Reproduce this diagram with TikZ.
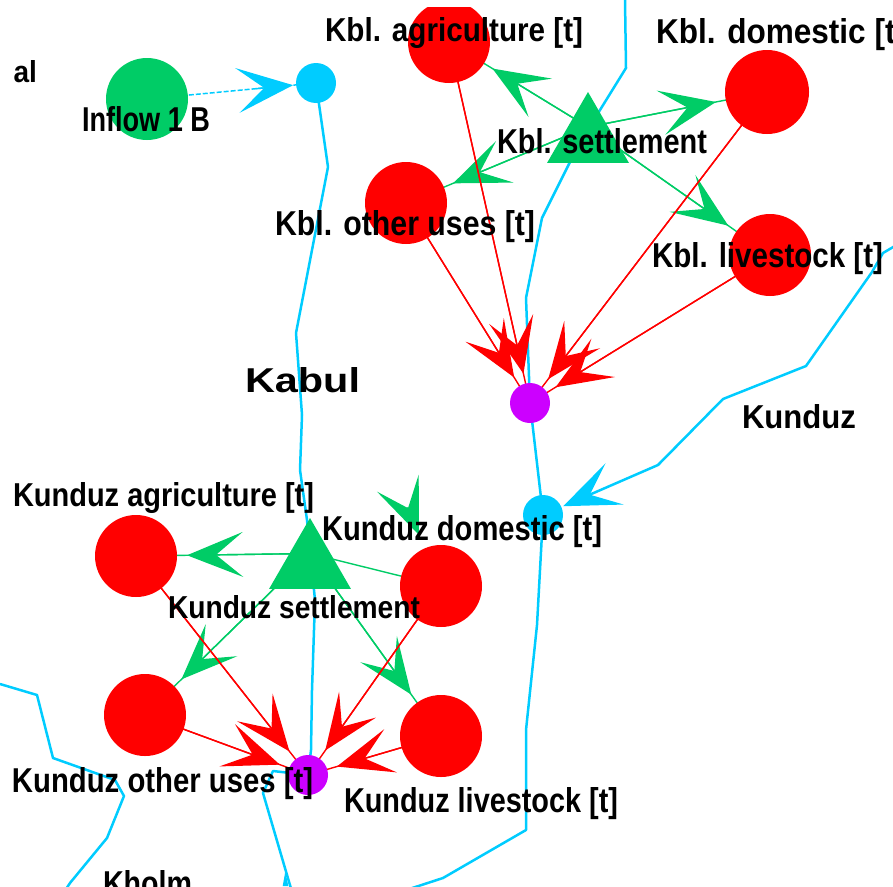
\documentclass[tikz,border=0pt]{standalone}
\usepackage{fontspec}
\setmainfont{Liberation Sans}
\usetikzlibrary{arrows.meta,shapes.geometric}
\pgfdeclarelayer{bg}
\pgfsetlayers{bg,main}
\definecolor{cRed}{RGB}{255,0,0}
\definecolor{cGreen}{RGB}{0,204,102}
\definecolor{cCyan}{RGB}{0,204,255}
\definecolor{cPurple}{RGB}{204,0,255}
\newcommand{\fitlbl}[3]{\resizebox{#1pt}{#2pt}{\bfseries #3}}
\begin{document}
\begin{tikzpicture}[x=1pt,y=-1pt,
  redc/.style={circle,fill=cRed,draw=none,minimum size=82pt,inner sep=0pt},
  greenc/.style={circle,fill=cGreen,draw=none,minimum size=82pt,inner sep=0pt},
  purc/.style={circle,fill=cPurple,draw=none,minimum size=40pt,inner sep=0pt},
  cyanc/.style={circle,fill=cCyan,draw=none,minimum size=40pt,inner sep=0pt},
  tri/.style={regular polygon,regular polygon sides=3,fill=cGreen,draw=none,minimum size=94.6pt,inner sep=0pt},
  bigtip/.style={-{Stealth[length=56pt,width=45pt,inset=27pt]}},
  redline/.style={draw=cRed,line width=1.4pt},
  greenline/.style={draw=cGreen,line width=1.4pt},
  river/.style={draw=cCyan,line width=2.5pt,line join=round},
  inflow/.style={draw=cCyan,line width=1.5pt,dash pattern=on 5pt off 2pt},
  lbl/.style={anchor=base west,inner sep=0pt,outer sep=0pt,text=black},
  lble/.style={anchor=base east,inner sep=0pt,outer sep=0pt,text=black}]
\useasboundingbox (0,0) rectangle (893,886);
\begin{scope}
\clip (12,7) rectangle (893,886);
% ---------- nodes ----------
\node[redc] (tagri) at (449,42) {};
\node[redc, minimum size=84pt] (tdom) at (767,92) {};
\node[redc] (tother) at (406,203) {};
\node[redc] (tlive) at (770,255) {};
\node[tri] (ttri) at (588,139.3) {};
\node[purc] (tpur) at (530,403) {};
\node[cyanc] (tcyan) at (316,83) {};
\node[greenc] (inflowB) at (147,99) {};
\node[cyanc] (bcyan) at (543,515) {};
\node[redc] (bagri) at (136,556) {};
\node[tri] (btri) at (310,565.3) {};
\node[redc] (bdom) at (441,586) {};
\node[redc] (bother) at (145,715) {};
\node[redc] (blive) at (441,736) {};
\node[purc] (bpur) at (308,775) {};
\coordinate (wa) at (388.8,461);
\coordinate (wb) at (419,535);
% ---------- edges (behind nodes) ----------
\begin{pgfonlayer}{bg}
% rivers
\draw[river] (tcyan.center) -- (328,167) -- (296,333) -- (302,415) -- (300,470) -- (307,520) -- (315,600) -- (312,690) -- (311,750) -- (bpur.center);
\draw[river] (625,0) -- (626,68) -- (600,110) -- (570,162) -- (542,218) -- (526,298) -- (tpur.center);
\draw[river] (tpur.center) -- (bcyan.center);
\draw[river, bigtip, shorten >=22pt] (900,243) -- (883,253) -- (872,272) -- (806,366) -- (723,399) -- (658,465) -- (bcyan.center);
\draw[river] (bcyan.center) -- (537,625) -- (526,730) -- (526,830) -- (443,878) -- (400,892);
\draw[river] (bpur.center) -- (273,771) -- (263,793) -- (292,892);
\fill[cCyan] (282.7,886) -- (285.3,871.5) -- (288.3,886) -- cycle;
\draw[river] (0,684) -- (37,695) -- (53,758) -- (115,780) -- (124,796) -- (107,838) -- (70,883) -- (64,892);
% inflow
\draw[inflow] (inflowB.center) -- (tcyan.center);
\draw[draw=cCyan, line width=1.5pt, bigtip, shorten >=23pt] ([xshift=-60pt,yshift=-5.7pt]tcyan.center) -- (tcyan.center);
% top cluster green
\foreach \t/\s in {tagri/51,tdom/52,tother/51,tlive/51}{
  \draw[greenline] ([yshift=12.3pt]ttri.center) -- (\t.center);
  \draw[greenline, bigtip, shorten >=\s pt] ([yshift=12.3pt]ttri.center) -- (\t.center);
}
% top cluster red
\foreach \f in {tagri,tdom,tother,tlive}{
  \draw[redline] (\f.center) -- (tpur.center);
  \draw[redline, bigtip, shorten >=30pt] (\f.center) -- (tpur.center);
}
% bottom cluster green
\foreach \t in {bagri,bother,blive}{
  \draw[greenline] ([yshift=11.8pt]btri.center) -- (\t.center);
  \draw[greenline, bigtip, shorten >=51pt] ([yshift=11.8pt]btri.center) -- (\t.center);
}
\draw[greenline] ([yshift=11.8pt]btri.center) -- (bdom.center);
\draw[greenline, bigtip, shorten <=50pt] (wa) -- (wb);
% bottom cluster red
\foreach \f in {bagri,bdom,bother,blive}{
  \draw[redline] (\f.center) -- (bpur.center);
  \draw[redline, bigtip, shorten >=30pt] (\f.center) -- (bpur.center);
}
\end{pgfonlayer}
% ---------- labels ----------
\node[lbl] (L1) at (325,41) {\fitlbl{258}{24}{Kbl. agriculture [t]}};
\node[lbl] (L2) at (656,43) {\fitlbl{250}{25}{Kbl. domestic [t]}};
\node[lbl] (L3) at (497,153) {\fitlbl{210}{25}{Kbl. settlement}};
\node[lbl] (L4) at (275,235) {\fitlbl{260}{25}{Kbl. other uses [t]}};
\node[lbl] (L5) at (652,267) {\fitlbl{231}{25}{Kbl. livestock [t]}};
\node[lbl] (L6) at (245,392) {\fitlbl{115}{25}{Kabul}};
\node[lbl] (L7) at (742,428) {\fitlbl{114}{24}{Kunduz}};
\node[lbl] (L8) at (82,131) {\fitlbl{128}{25}{Inflow 1 B}};
\node[lble] (L9) at (37,82) {\fitlbl{190}{22}{Panjshir canal}};
\node[lbl] (L10) at (13,506) {\fitlbl{301}{24}{Kunduz agriculture [t]}};
\node[lbl] (L11) at (322,540) {\fitlbl{280}{25}{Kunduz domestic [t]}};
\node[lbl] (L12) at (168,618) {\fitlbl{252}{23}{Kunduz settlement}};
\node[lbl] (L13) at (12,792) {\fitlbl{301}{25}{Kunduz other uses [t]}};
\node[lbl] (L14) at (344,812) {\fitlbl{274}{25}{Kunduz livestock [t]}};
\node[lbl] (L15) at (103,895) {\fitlbl{89}{25}{Kholm}};
\end{scope}
\end{tikzpicture}
\end{document}
